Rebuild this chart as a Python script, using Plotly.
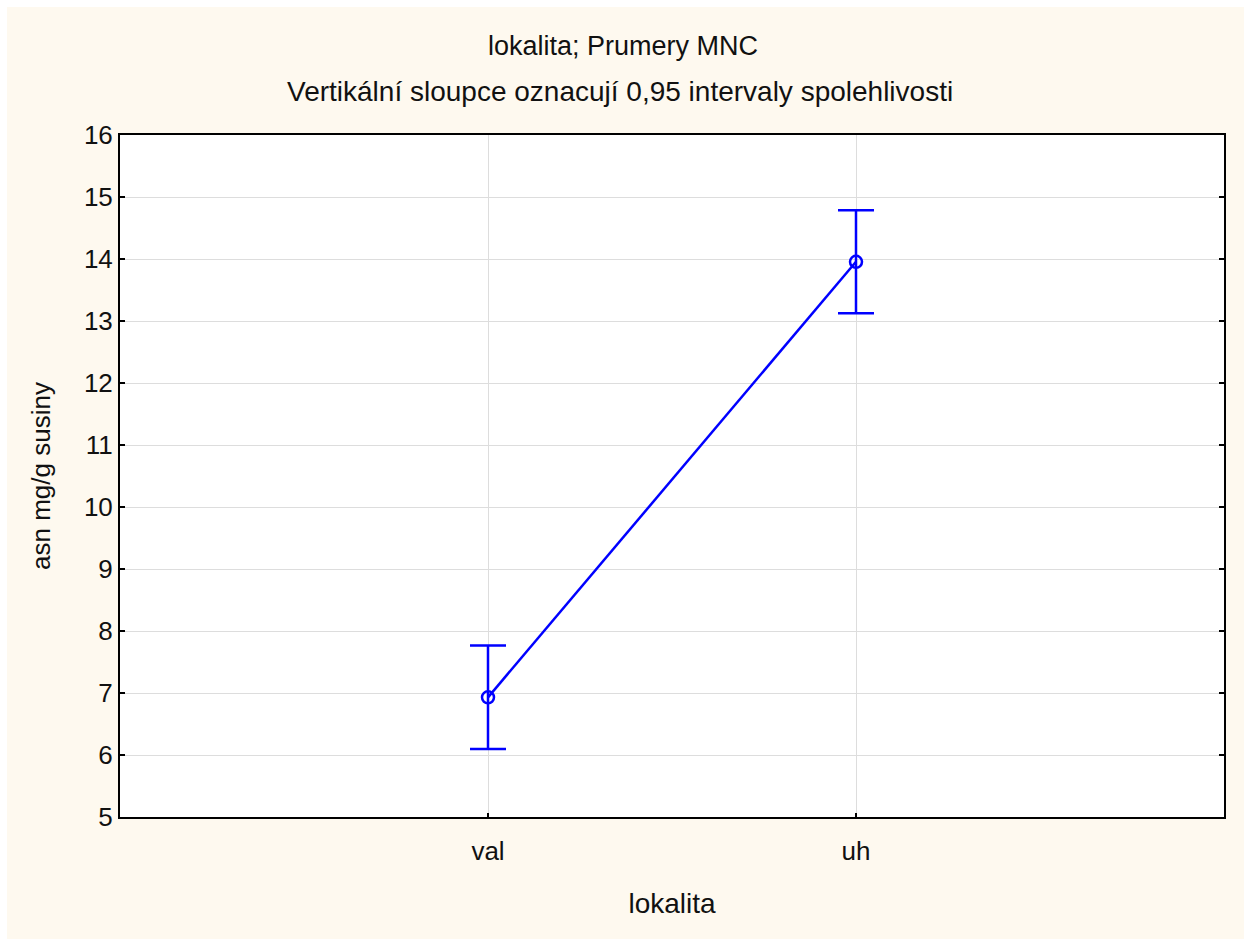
import plotly.graph_objects as go

# Group means with 0.95 confidence half-widths
categories = ["val", "uh"]
means = [6.93, 13.955]
ci_half = [0.835, 0.83]

y_ticks = list(range(5, 17))

title_main = "lokalita; Prumery MNC"
title_sub = "Vertikální sloupce oznacují 0,95 intervaly spolehlivosti"
x_title = "lokalita"
y_title = "asn mg/g susiny"

FONT = "Liberation Sans, Arial, sans-serif"
CREAM = "#FEF9EF"
BLUE = "#0000FF"

fig = go.Figure()
fig.add_trace(go.Scatter(
    x=categories,
    y=means,
    mode="lines+markers",
    line=dict(color=BLUE, width=2.5),
    marker=dict(symbol="circle-open", size=12, color=BLUE, line=dict(width=2.5, color=BLUE)),
    error_y=dict(type="data", array=ci_half, visible=True, color=BLUE,
                 thickness=2.5, width=18),
    showlegend=False,
))

W, H = 1244, 939
L, R, T, B = 120, 20, 135, 122
pw, ph = W - L - R, H - T - B

fig.update_layout(
    width=W, height=H,
    margin=dict(l=L, r=R, t=T, b=B),
    paper_bgcolor=CREAM,
    plot_bgcolor="white",
    font=dict(family=FONT, size=26, color="#111111"),
    xaxis=dict(
        type="category", range=[-1, 2],
        showgrid=True, gridcolor="#DDDDDD", gridwidth=1,
        showline=True, linecolor="black", linewidth=2, mirror=True,
        ticks="inside", ticklen=4, tickcolor="black", tickwidth=2,
        ticklabelstandoff=10,
        tickfont=dict(size=26),
        title=dict(text=x_title, font=dict(size=28), standoff=28),
        zeroline=False,
    ),
    yaxis=dict(
        range=[5, 16], tickvals=y_ticks,
        showgrid=True, gridcolor="#DDDDDD", gridwidth=1,
        showline=True, linecolor="black", linewidth=2, mirror="ticks",
        ticks="inside", ticklen=5, tickcolor="black", tickwidth=2,
        tickfont=dict(size=26),
        title=dict(text=y_title, font=dict(size=26), standoff=26),
        zeroline=False,
    ),
    annotations=[
        dict(text=title_main, xref="paper", yref="paper",
             x=(623 - L) / pw, y=(H - B - 46) / ph,
             showarrow=False, xanchor="center", yanchor="middle",
             font=dict(size=27)),
        dict(text=title_sub, xref="paper", yref="paper",
             x=(620 - L) / pw, y=(H - B - 91) / ph,
             showarrow=False, xanchor="center", yanchor="middle",
             font=dict(size=28)),
    ],
    shapes=[
        # thin white strip along the top and left edges of the page
        dict(type="rect", xref="paper", yref="paper",
             x0=-0.2, x1=(7 - L) / pw, y0=-0.3, y1=1.3,
             fillcolor="white", line=dict(width=0), layer="above"),
        dict(type="rect", xref="paper", yref="paper",
             x0=-0.2, x1=1.1, y0=(H - B - 7) / ph, y1=1.3,
             fillcolor="white", line=dict(width=0), layer="above"),
    ],
)

fig.write_html("out.html")
